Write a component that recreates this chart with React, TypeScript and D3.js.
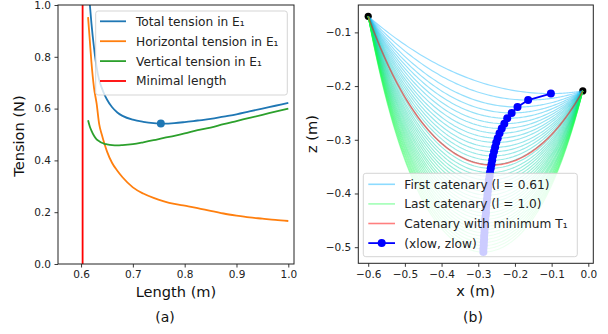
import React, { useEffect, useRef } from "react";
import * as d3 from "d3";

// (a) tensions against cable length
const lengths = [0.6135, 0.617, 0.62, 0.625, 0.63, 0.635, 0.64, 0.645, 0.65, 0.66, 0.67, 0.68, 0.7, 0.72, 0.74, 0.76, 0.78, 0.8, 0.825, 0.85, 0.875, 0.9, 0.925, 0.95, 0.975, 1.0];
const totalTension = [1.1, 1.0, 0.93, 0.835, 0.76, 0.71, 0.68, 0.655, 0.635, 0.605, 0.585, 0.572, 0.557, 0.549, 0.544, 0.542, 0.544, 0.548, 0.554, 0.56, 0.569, 0.578, 0.589, 0.6, 0.611, 0.622];
const horizontalTension = [0.953, 0.86, 0.78, 0.68, 0.62, 0.54, 0.5, 0.465, 0.435, 0.39, 0.36, 0.335, 0.296, 0.272, 0.255, 0.242, 0.232, 0.225, 0.216, 0.205, 0.195, 0.187, 0.18, 0.175, 0.17, 0.166];
const verticalTension = [0.555, 0.53, 0.515, 0.495, 0.481, 0.474, 0.468, 0.464, 0.462, 0.459, 0.458, 0.459, 0.463, 0.47, 0.478, 0.487, 0.495, 0.504, 0.517, 0.527, 0.54, 0.552, 0.564, 0.576, 0.588, 0.6];
const minimalLength = 0.603;
const minTensionPoint = [0.754, 0.542];
const lengthTicks = [0.6, 0.7, 0.8, 0.9, 1.0];
const tensionTicks = [0, 0.2, 0.4, 0.6, 0.8, 1.0];

// (b) catenaries between the two anchors
const anchorX = [-0.6, -0.015];
const anchorZ = [-0.07, -0.209];
const xLow = [-0.102, -0.164, -0.193, -0.209, -0.221, -0.229, -0.236, -0.242, -0.247, -0.251, -0.254, -0.257, -0.26, -0.262, -0.264, -0.266, -0.268, -0.269, -0.271, -0.272, -0.273, -0.274, -0.275, -0.276, -0.277, -0.278, -0.279, -0.279, -0.28, -0.281, -0.281, -0.282, -0.283, -0.283, -0.284, -0.284, -0.285, -0.285, -0.286, -0.286];
const zLow = [-0.214, -0.226, -0.239, -0.25, -0.26, -0.27, -0.279, -0.288, -0.297, -0.305, -0.314, -0.322, -0.33, -0.338, -0.346, -0.353, -0.361, -0.368, -0.375, -0.382, -0.389, -0.396, -0.403, -0.41, -0.416, -0.423, -0.429, -0.436, -0.442, -0.448, -0.455, -0.461, -0.467, -0.473, -0.479, -0.485, -0.491, -0.497, -0.503, -0.509];
const minCatenaryLow = [-0.263, -0.347];
const xTicksB = [-0.6, -0.5, -0.4, -0.3, -0.2, -0.1, 0.0];
const zTicksB = [-0.5, -0.4, -0.3, -0.2, -0.1];

const FONT = "DejaVu Sans, sans-serif";

// points of a catenary arc from its lowest point (x0, z0) up to (x1, z1)
function catenaryArc(x0: number, z0: number, x1: number, z1: number): [number, number][] {
    const dx = Math.abs(x1 - x0);
    const dz = z1 - z0;
    if (dx < 1e-6 || dz <= 0) return [[x0, z0], [x1, z1]];
    let lo = dx / 40;
    let hi = 100;
    for (let k = 0; k < 80; k++) {
        const mid = Math.sqrt(lo * hi);
        const f = mid * (Math.cosh(dx / mid) - 1);
        if (f > dz) lo = mid;
        else hi = mid;
    }
    const a = Math.sqrt(lo * hi);
    return d3.range(61).map((k) => {
        const x = x0 + ((x1 - x0) * k) / 60;
        return [x, z0 + a * (Math.cosh((x - x0) / a) - 1)] as [number, number];
    });
}

function catenary(xl: number, zl: number): [number, number][] {
    const left = catenaryArc(xl, zl, anchorX[0], anchorZ[0]).reverse();
    const right = catenaryArc(xl, zl, anchorX[1], anchorZ[1]);
    return [...left, ...right.slice(1)];
}

const App: React.FC = () => {
    const ref = useRef<SVGSVGElement | null>(null);

    useEffect(() => {
        const svg = d3.select(ref.current);
        svg.selectAll("*").remove();

        const styleAxis = (g: any) => {
            g.select(".domain").remove();
            g.selectAll(".tick line").attr("stroke", "#222").attr("stroke-width", 0.9);
            g.selectAll(".tick text").attr("font-family", FONT).attr("font-size", 10.5).attr("fill", "#222");
        };

        // ---------- (a) ----------
        const xA = d3.scaleLinear().domain([0.5555, 1.011]).range([58, 294]);
        const yA = d3.scaleLinear().domain([0, 1]).range([264, 5]);

        svg.append("clipPath").attr("id", "clipA").append("rect")
            .attr("x", 58).attr("y", 5).attr("width", 236).attr("height", 259);

        const gA = svg.append("g");
        const plotA = gA.append("g").attr("clip-path", "url(#clipA)");

        plotA.append("line")
            .attr("x1", xA(minimalLength)).attr("x2", xA(minimalLength))
            .attr("y1", yA(0)).attr("y2", yA(1))
            .attr("stroke", "red").attr("stroke-width", 1.8);

        const series = [
            { values: totalTension, color: "#1f77b4" },
            { values: horizontalTension, color: "#ff7f0e" },
            { values: verticalTension, color: "#2ca02c" },
        ];
        series.forEach((s) => {
            const line = d3.line<number>()
                .x((_, i) => xA(lengths[i]))
                .y((d) => yA(d))
                .curve(d3.curveMonotoneX);
            plotA.append("path")
                .attr("d", line(s.values))
                .attr("fill", "none")
                .attr("stroke", s.color)
                .attr("stroke-width", 1.8);
        });

        plotA.append("circle")
            .attr("cx", xA(minTensionPoint[0])).attr("cy", yA(minTensionPoint[1]))
            .attr("r", 4).attr("fill", "#1f77b4");

        gA.append("g").attr("transform", "translate(0,264)")
            .call(d3.axisBottom(xA).tickValues(lengthTicks).tickFormat(d3.format(".1f")).tickSize(3.5).tickPadding(3.5))
            .call(styleAxis);
        gA.append("g").attr("transform", "translate(58,0)")
            .call(d3.axisLeft(yA).tickValues(tensionTicks).tickFormat(d3.format(".1f")).tickSize(3.5).tickPadding(3.5))
            .call(styleAxis);

        gA.append("rect").attr("x", 58).attr("y", 5).attr("width", 236).attr("height", 259)
            .attr("fill", "none").attr("stroke", "#222").attr("stroke-width", 1);

        // legend (a)
        const legA = gA.append("g");
        legA.append("rect").attr("x", 95.7).attr("y", 11).attr("width", 191.6).attr("height", 84).attr("rx", 2.5)
            .attr("fill", "white").attr("fill-opacity", 0.8).attr("stroke", "#d0d0d0").attr("stroke-width", 0.9);
        const itemsA = [
            { label: "Total tension in E\u2081", color: "#1f77b4" },
            { label: "Horizontal tension in E\u2081", color: "#ff7f0e" },
            { label: "Vertical tension in E\u2081", color: "#2ca02c" },
            { label: "Minimal length", color: "red" },
        ];
        itemsA.forEach((it, i) => {
            const y = 21.3 + i * 19.9;
            legA.append("line").attr("x1", 100).attr("x2", 126).attr("y1", y).attr("y2", y)
                .attr("stroke", it.color).attr("stroke-width", 1.8);
            legA.append("text").attr("x", 136).attr("y", y + 4.4).text(it.label)
                .attr("font-family", FONT).attr("font-size", 12.2).attr("fill", "#222");
        });

        gA.append("text").attr("x", 176).attr("y", 296.5).attr("text-anchor", "middle")
            .attr("font-family", FONT).attr("font-size", 14.6).attr("fill", "#111").text("Length (m)");
        gA.append("text").attr("transform", "translate(24,136) rotate(-90)").attr("text-anchor", "middle")
            .attr("font-family", FONT).attr("font-size", 14.6).attr("fill", "#111").text("Tension (N)");
        gA.append("text").attr("x", 165).attr("y", 322).attr("text-anchor", "middle")
            .attr("font-family", FONT).attr("font-size", 14).attr("fill", "#111").text("(a)");

        // ---------- (b) ----------
        const xB = d3.scaleLinear().domain([-0.627, 0.0136]).range([358.3, 593.3]);
        const yB = d3.scaleLinear().domain([-0.53, -0.049]).range([263.3, 5]);

        svg.append("clipPath").attr("id", "clipB").append("rect")
            .attr("x", 358.3).attr("y", 5).attr("width", 235).attr("height", 258.3);

        const gB = svg.append("g");
        const plotB = gB.append("g").attr("clip-path", "url(#clipB)");

        plotB.selectAll("circle.anchor").data(anchorX).join("circle")
            .attr("class", "anchor")
            .attr("cx", (d) => xB(d)).attr("cy", (_, i) => yB(anchorZ[i]))
            .attr("r", 3.6).attr("fill", "black");

        const catLine = d3.line<[number, number]>().x((d) => xB(d[0])).y((d) => yB(d[1]));
        const colorAt = d3.interpolateRgb("rgb(0,175,255)", "rgb(20,255,70)");
        xLow.forEach((xl, i) => {
            plotB.append("path")
                .attr("d", catLine(catenary(xl, zLow[i])))
                .attr("fill", "none")
                .attr("stroke", colorAt(i / (xLow.length - 1)))
                .attr("stroke-opacity", 0.42)
                .attr("stroke-width", 1.15);
        });

        plotB.append("path")
            .attr("d", catLine(catenary(minCatenaryLow[0], minCatenaryLow[1])))
            .attr("fill", "none").attr("stroke", "red").attr("stroke-opacity", 0.5).attr("stroke-width", 1.6);

        const lowLine = d3.line<number>().x((d) => xB(d)).y((_, i) => yB(zLow[i]));
        plotB.append("path").attr("d", lowLine(xLow))
            .attr("fill", "none").attr("stroke", "blue").attr("stroke-width", 1.8);
        plotB.selectAll("circle.low").data(xLow).join("circle")
            .attr("class", "low")
            .attr("cx", (d) => xB(d)).attr("cy", (_, i) => yB(zLow[i]))
            .attr("r", 4).attr("fill", "blue");

        gB.append("g").attr("transform", "translate(0,263.3)")
            .call(d3.axisBottom(xB).tickValues(xTicksB).tickFormat(d3.format(".1f")).tickSize(3.5).tickPadding(3.5))
            .call(styleAxis);
        gB.append("g").attr("transform", "translate(358.3,0)")
            .call(d3.axisLeft(yB).tickValues(zTicksB).tickFormat(d3.format(".1f")).tickSize(3.5).tickPadding(3.5))
            .call(styleAxis);

        gB.append("rect").attr("x", 358.3).attr("y", 5).attr("width", 235).attr("height", 258.3)
            .attr("fill", "none").attr("stroke", "#222").attr("stroke-width", 1);

        // legend (b)
        const legB = gB.append("g");
        legB.append("rect").attr("x", 363.3).attr("y", 173.3).attr("width", 214).attr("height", 83.4).attr("rx", 2.5)
            .attr("fill", "white").attr("fill-opacity", 0.8).attr("stroke", "#d0d0d0").attr("stroke-width", 0.9);
        const itemsB = [
            { label: "First catenary (l = 0.61)", color: colorAt(0), opacity: 0.45, width: 1.6, marker: false },
            { label: "Last catenary (l = 1.0)", color: colorAt(1), opacity: 0.4, width: 1.6, marker: false },
            { label: "Catenary with minimum T\u2081", color: "red", opacity: 0.5, width: 1.6, marker: false },
            { label: "(xlow, zlow)", color: "blue", opacity: 1, width: 1.8, marker: true },
        ];
        itemsB.forEach((it, i) => {
            const y = 184.3 + i * 19.6;
            legB.append("line").attr("x1", 368.3).attr("x2", 395).attr("y1", y).attr("y2", y)
                .attr("stroke", it.color).attr("stroke-opacity", it.opacity).attr("stroke-width", it.width);
            if (it.marker) legB.append("circle").attr("cx", 381.7).attr("cy", y).attr("r", 4).attr("fill", "blue");
            legB.append("text").attr("x", 404.3).attr("y", y + 4.4).text(it.label)
                .attr("font-family", FONT).attr("font-size", 12.2).attr("fill", "#222");
        });

        gB.append("text").attr("x", 475.8).attr("y", 296).attr("text-anchor", "middle")
            .attr("font-family", FONT).attr("font-size", 14.6).attr("fill", "#111").text("x (m)");
        gB.append("text").attr("transform", "translate(317,134) rotate(-90)").attr("text-anchor", "middle")
            .attr("font-family", FONT).attr("font-size", 14.6).attr("fill", "#111").text("z (m)");
        gB.append("text").attr("x", 473).attr("y", 322).attr("text-anchor", "middle")
            .attr("font-family", FONT).attr("font-size", 14).attr("fill", "#111").text("(b)");
    }, []);

    return (
        <svg
            ref={ref}
            width={608}
            height={334}
            style={{ position: "absolute", left: 0, top: 0, background: "white" }}
        />
    );
};

export default App;
